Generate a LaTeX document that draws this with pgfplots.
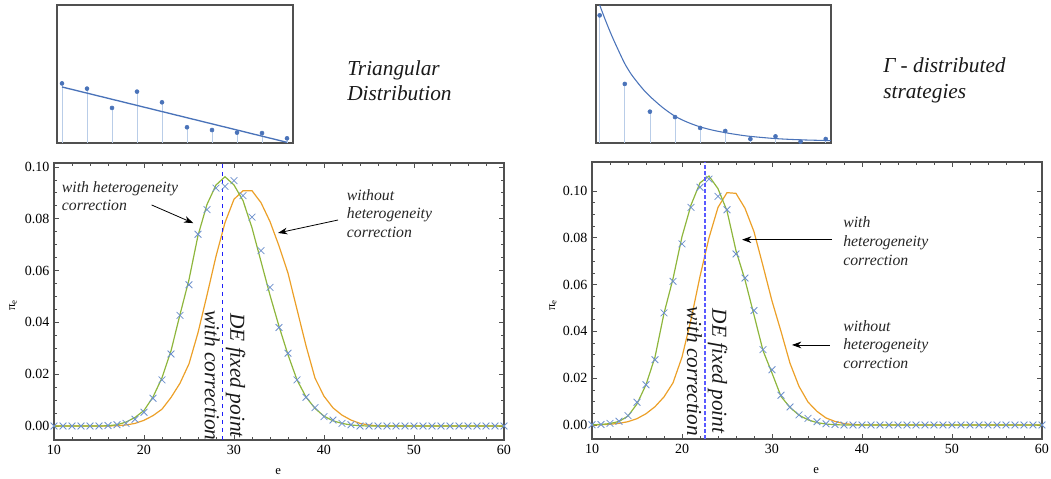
\documentclass[border=0pt]{standalone}
\usepackage{fontspec}
\setmainfont{Liberation Serif}
\usepackage{pgfplots}
\pgfplotsset{compat=1.18}
\usepackage{pgfplotstable}
\usetikzlibrary{arrows.meta}

\definecolor{cgreen}{RGB}{142,182,60}
\definecolor{corange}{RGB}{236,160,40}
\definecolor{ccross}{RGB}{110,145,205}
\definecolor{cframe}{RGB}{80,80,80}
\definecolor{cstem}{RGB}{185,205,232}
\definecolor{cdot}{RGB}{74,115,185}
\definecolor{cdashA}{RGB}{30,30,250}
\definecolor{cdashB}{RGB}{90,90,255}

% ---------- left panel data ----------
\pgfplotstableread{
x y
10 0
11 0
12 0
13 0
14 0
15 0
16 0.0002
17 0.0005
18 0.001
19 0.0026
20 0.0053
21 0.0107
22 0.0178
23 0.0278
24 0.0427
25 0.0545
26 0.074
27 0.0835
28 0.0918
29 0.0925
30 0.0947
31 0.0889
32 0.0806
33 0.0677
34 0.0535
35 0.038
36 0.0281
37 0.0178
38 0.0111
39 0.0071
40 0.0036
41 0.0023
42 0.001
43 0.0005
44 0
45 0
46 0
47 0
48 0
49 0
50 0
51 0
52 0
53 0
54 0
55 0
56 0
57 0
58 0
59 0
60 0
}\crossA
\pgfplotstableread{
x y
10 0
15 0
16 0.0001
17 0.0005
18 0.0015
19 0.0033
20 0.006
21 0.0112
22 0.0186
23 0.029
24 0.043
25 0.0565
26 0.0735
27 0.0855
28 0.093
29 0.0962
30 0.093
31 0.087
32 0.0765
33 0.0635
34 0.0505
35 0.0385
36 0.0275
37 0.0178
38 0.0112
39 0.0068
40 0.0038
41 0.002
42 0.001
43 0.0004
44 0.0001
45 0
60 0
}\greenA
\pgfplotstableread{
x y
10 0
16 0
17 0.0001
18 0.0004
19 0.001
20 0.0022
21 0.004
22 0.0065
23 0.011
24 0.0165
25 0.024
26 0.036
27 0.0505
28 0.0655
29 0.0785
30 0.0875
31 0.0908
32 0.0908
33 0.0862
34 0.0789
35 0.0695
36 0.059
37 0.045
38 0.031
39 0.0185
40 0.0115
41 0.007
42 0.0042
43 0.0023
44 0.001
45 0.0004
46 0
60 0
}\orangeA

% ---------- right panel data ----------
\pgfplotstableread{
x y
10 0.0001
11 0.0002
12 0.0007
13 0.0016
14 0.004
15 0.0097
16 0.0172
17 0.0279
18 0.0479
19 0.0614
20 0.0774
21 0.093
22 0.1016
23 0.1051
24 0.0977
25 0.092
26 0.0731
27 0.0628
28 0.0489
29 0.0322
30 0.0236
31 0.0127
32 0.0077
33 0.0043
34 0.0028
35 0.0014
36 0.0005
37 0.0002
38 0
39 0
40 0
41 0
42 0
43 0
44 0
45 0
46 0
47 0
48 0
49 0
50 0
51 0
52 0
53 0
54 0
55 0
56 0
57 0
58 0
59 0
60 0
}\crossB
\pgfplotstableread{
x y
10 0.0001
11 0.0002
12 0.0006
13 0.0015
14 0.0038
15 0.009
16 0.0172
17 0.029
18 0.0477
19 0.0625
20 0.0805
21 0.094
22 0.1035
23 0.1064
24 0.101
25 0.0915
26 0.0745
27 0.062
28 0.047
29 0.0318
30 0.0222
31 0.0122
32 0.0075
33 0.0042
34 0.0022
35 0.001
36 0.0004
37 0.0001
38 0
60 0
}\greenB
\pgfplotstableread{
x y
10 0
11 0.0001
12 0.0003
13 0.0007
14 0.0014
15 0.0027
16 0.0048
17 0.0078
18 0.012
19 0.018
20 0.029
21 0.045
22 0.0635
23 0.08
24 0.093
25 0.0993
26 0.099
27 0.0926
28 0.0826
29 0.068
30 0.053
31 0.04
32 0.0264
33 0.0165
34 0.0098
35 0.0058
36 0.003
37 0.0015
38 0.0006
39 0.0002
40 0
60 0
}\orangeB

% ---------- inset data ----------
\pgfplotstableread{
x y
1 0.432
2 0.394
3 0.254
4 0.372
5 0.295
6 0.114
7 0.094
8 0.075
9 0.072
10 0.034
}\insetA
\pgfplotstableread{
x y
1 0.925
2 0.428
3 0.227
4 0.188
5 0.109
6 0.087
7 0.029
8 0.048
9 0.010
10 0.029
}\insetB
\pgfplotstableread{
x y
1 0.406
10 0.005
}\fitA
\pgfplotstableread{
x y
1.0 1.0
1.25 0.88
1.5 0.77
1.75 0.67
2 0.575
2.25 0.50
2.5 0.44
2.75 0.385
3 0.338
3.5 0.258
4 0.194
4.5 0.150
5 0.117
5.5 0.093
6 0.075
6.5 0.060
7 0.048
8 0.032
9 0.023
10 0.018
10.2 0.017
}\fitB

\pgfplotsset{
  mainax/.style={
    scale only axis, width=337.5pt, height=207.75pt,
    xmin=10, xmax=60, xtick={10,20,30,40,50,60}, minor x tick num=4,
    ytick={0,0.02,0.04,0.06,0.08,0.1}, minor y tick num=3,
    tick align=inside, major tick length=3.5pt, minor tick length=2pt,
    axis line style={cframe, line width=0.8pt},
    every tick/.style={cframe, line width=0.5pt},
    tick label style={font=\fontsize{10.5}{12}\selectfont},
    /pgf/number format/assume math mode=true,
    yticklabel style={/pgf/number format/fixed, /pgf/number format/fixed zerofill, /pgf/number format/precision=2},
    xticklabel style={/pgf/number format/fixed},
    xlabel={e}, ylabel={π\textsubscript{e}},
    label style={font=\fontsize{9.5}{11}\selectfont},
    xlabel style={at={(axis description cs:0.498,-0.115)}, anchor=center},
    clip=false,
  },
  insetax/.style={
    scale only axis, height=103.5pt, ymin=0, ymax=1,
    xtick=\empty, ytick=\empty,
    axis line style={cframe, line width=1.1pt}, clip=true,
  },
}
\tikzset{
  ann/.style={font=\fontsize{11.8}{14}\selectfont\itshape, align=left, inner sep=0pt, text=black!85},
  arr/.style={-{Stealth[length=7pt,width=5pt]}, line width=0.6pt, black},
  big/.style={font=\fontsize{16}{19}\selectfont\itshape, align=left, inner sep=0pt, text=black!90},
}

\begin{document}
\begin{tikzpicture}
\useasboundingbox (0,0) rectangle (788.25pt,359.25pt);

% ---------------- left inset ----------------
\begin{axis}[insetax, at={(42.75pt,252pt)}, anchor=south west, width=177pt, xmin=0.8, xmax=10.24]
\addplot[cstem, line width=0.5pt, ycomb, mark=none] table {\insetA};
\addplot[cdot, line width=1pt, mark=none] table {\fitA};
\addplot[only marks, mark=*, mark size=1.5pt, cdot] table {\insetA};
\end{axis}
\node[big, anchor=west] at (260.25pt,298.9pt) {Triangular\\Distribution};

% ---------------- right inset ----------------
\begin{axis}[insetax, at={(447pt,252pt)}, anchor=south west, width=176.25pt, xmin=0.854, xmax=10.21]
\addplot[cstem, line width=0.5pt, ycomb, mark=none] table {\insetB};
\addplot[cdot, line width=0.8pt, mark=none, smooth] table {\fitB};
\addplot[only marks, mark=*, mark size=1.5pt, cdot] table {\insetB};
\end{axis}
\node[big, anchor=west] at (662.25pt,298.9pt) {Γ - distributed\\strategies};

% ---------------- left main ----------------
\begin{axis}[mainax, at={(40.5pt,29.25pt)}, anchor=south west,
  ymin=-0.0054, ymax=0.1015,
  ylabel style={at={(axis description cs:-0.091,0.487)}, anchor=center}]
\addplot[corange, line width=0.9pt, mark=none] table {\orangeA};
\addplot[cgreen, line width=0.9pt, mark=none] table {\greenA};
\addplot[only marks, mark=x, mark size=3.6pt, ccross, mark options={line width=0.6pt}] table {\crossA};
\addplot[cdashA, dashed, line width=0.8pt, mark=none] coordinates {(28.7,-0.0054) (28.7,0.1015)};
\node[rotate=-90, align=center, font=\fontsize{16}{19}\selectfont\itshape, inner sep=0pt, text=black!90] at (axis cs:29.0,0.0195) {DE fixed point\\with correction};
\node[ann, anchor=north west] at (axis cs:10.85,0.0946) {with heterogeneity\\correction};
\draw[arr] (axis cs:20.85,0.0853) -- (axis cs:25.48,0.0783);
\node[ann, anchor=north west] at (axis cs:42.52,0.0915) {without\\heterogeneity\\correction};
\draw[arr] (axis cs:41.56,0.0795) -- (axis cs:34.89,0.0745);
\end{axis}

% ---------------- right main ----------------
\begin{axis}[mainax, at={(444pt,30pt)}, anchor=south west,
  ymin=-0.006, ymax=0.1124,
  ylabel style={at={(axis description cs:-0.087,0.484)}, anchor=center}]
\addplot[corange, line width=0.9pt, mark=none] table {\orangeB};
\addplot[cgreen, line width=0.9pt, mark=none] table {\greenB};
\addplot[only marks, mark=x, mark size=3.6pt, ccross, mark options={line width=0.6pt}] table {\crossB};
\addplot[cdashB, dash pattern=on 3pt off 1.5pt, line width=1.1pt, mark=none] coordinates {(22.56,-0.006) (22.56,0.1124)};
\node[rotate=-90, align=center, font=\fontsize{16}{19}\selectfont\itshape, inner sep=0pt, text=black!90] at (axis cs:22.8,0.023) {DE fixed point\\with correction};
\node[ann, anchor=north west] at (axis cs:37.89,0.089) {with\\heterogeneity\\correction};
\draw[arr] (axis cs:36.67,0.0792) -- (axis cs:26.67,0.0792);
\node[ann, anchor=north west] at (axis cs:37.89,0.0449) {without\\heterogeneity\\correction};
\draw[arr] (axis cs:36.44,0.0342) -- (axis cs:32.22,0.0342);
\end{axis}
\end{tikzpicture}
\end{document}
